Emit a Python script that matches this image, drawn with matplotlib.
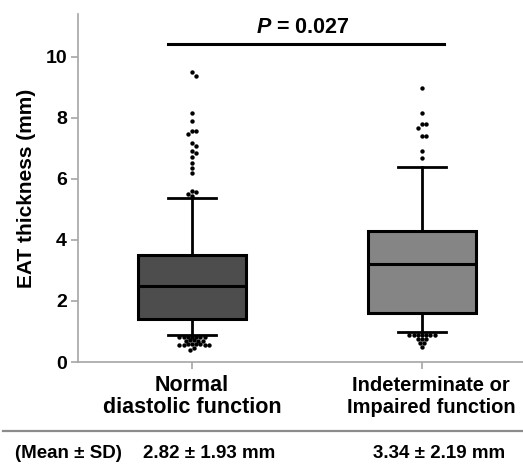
import numpy as np
import matplotlib
matplotlib.use('Agg')
import matplotlib.pyplot as plt
from matplotlib.lines import Line2D
from matplotlib.transforms import blended_transform_factory, ScaledTranslation

# values
categories = ['Normal\ndiastolic function', 'Indeterminate or\nImpaired function']
q1 = [1.41, 1.60]
medians = [2.49, 3.20]
q3 = [3.50, 4.30]
whisker_low = [0.90, 0.98]
whisker_high = [5.38, 6.39]
outliers_normal = [9.49, 9.38, 8.17, 7.88, 7.58, 7.58, 7.48, 7.19, 7.09, 6.90, 6.86,
                   6.70, 6.51, 6.35, 6.19, 5.61, 5.58, 5.50, 5.44,
                   0.83, 0.83, 0.83, 0.82, 0.82, 0.82, 0.82, 0.71, 0.71, 0.70, 0.70,
                   0.70, 0.58, 0.58, 0.58, 0.58, 0.57, 0.57, 0.57, 0.57, 0.46, 0.38]
outliers_impaired = [8.97, 8.17, 7.79, 7.79, 7.68, 7.39, 7.39, 6.90, 6.68,
                     0.89, 0.89, 0.89, 0.89, 0.88, 0.88, 0.88, 0.75, 0.75, 0.75,
                     0.62, 0.62, 0.50]
means = [2.82, 3.34]
sds = [1.93, 2.19]
p_value = 0.027
box_colors = ['#4d4d4d', '#858585']

plt.rcParams['font.family'] = ['Liberation Sans', 'DejaVu Sans']
plt.rcParams['font.weight'] = 'bold'
plt.rcParams['axes.labelweight'] = 'bold'
plt.rcParams['mathtext.fontset'] = 'custom'
plt.rcParams['mathtext.it'] = 'Liberation Sans:italic:bold'
plt.rcParams['mathtext.rm'] = 'Liberation Sans:bold'

W, H = 523, 465
fig = plt.figure(figsize=(W / 100, H / 100), dpi=100)
ax = fig.add_axes([78 / W, 103 / H, 445 / W, 348 / H])

ymax = 11.4
xlim = (-0.496, 1.439)
ax.set_ylim(0, ymax)
ax.set_xlim(*xlim)


def swarm(values, x0, diam=4.2):
    """
        Simple beeswarm offsets in pixel space, converted back to data x.
    """
    px_y = 348 / ymax
    px_x = 445 / (xlim[1] - xlim[0])
    order = np.argsort(values)[::-1]
    placed = []
    xs = np.zeros(len(values))
    for i in order:
        y = values[i] * px_y
        for k in range(0, 40):
            cands = [0.0] if k == 0 else [k * diam / 2, -k * diam / 2]
            ok = None
            for c in cands:
                if all((c - px) ** 2 + (y - py) ** 2 >= diam ** 2 * 0.9 for px, py in placed):
                    ok = c
                    break
            if ok is not None:
                placed.append((ok, y))
                xs[i] = x0 + ok / px_x
                break
    return xs


stats = []
for i in range(2):
    stats.append(dict(med=medians[i], q1=q1[i], q3=q3[i],
                      whislo=whisker_low[i], whishi=whisker_high[i], fliers=[]))

bp = ax.bxp(stats, positions=[0, 1], widths=0.47, patch_artist=True, showfliers=False,
            boxprops=dict(linewidth=2.2, edgecolor='black'),
            medianprops=dict(color='black', linewidth=2.2),
            whiskerprops=dict(color='black', linewidth=2.0),
            capprops=dict(color='black', linewidth=2.0),
            capwidths=0.205)
for patch, col in zip(bp['boxes'], box_colors):
    patch.set_facecolor(col)

for i, vals in enumerate([outliers_normal, outliers_impaired]):
    vals = np.array(vals)
    ax.scatter(swarm(vals, i), vals, s=10, color='black', zorder=3, linewidths=0)

# significance bar
ax.plot([-0.105, 1.095], [10.43, 10.43], color='black', linewidth=2.2, clip_on=False)
ax.text(0.483, 10.62, r'$\mathit{P}$ = ' + str(p_value), fontsize=15.5, ha='center', va='bottom')

for s in ['top', 'right']:
    ax.spines[s].set_visible(False)
for s in ['left', 'bottom']:
    ax.spines[s].set_color('#a6a6a6')
    ax.spines[s].set_linewidth(1.2)

ax.set_yticks([0, 2, 4, 6, 8, 10])
ax.tick_params(axis='y', colors='#a6a6a6', labelcolor='black', labelsize=14, length=5, width=1.2, pad=3)
ax.set_xticks([0, 1])
ax.set_xticklabels(categories, fontsize=15.5, linespacing=1.12, fontweight='bold')
ax.tick_params(axis='x', colors='#a6a6a6', labelcolor='black', length=5, width=1.2, pad=4)
# second label is set narrower and a little right of its tick in the reference
lab2 = ax.get_xticklabels()[1]
lab2.set_fontsize(14.5)
lab2.set_linespacing(1.2)
lab2.set_transform(lab2.get_transform() + ScaledTranslation(0.09, -0.01, fig.dpi_scale_trans))
ax.set_ylabel('EAT thickness (mm)', fontsize=15, fontweight='bold', labelpad=7)

# table row beneath the axis
fig.add_artist(Line2D([3 / W, 1.0], [1 - 431 / H, 1 - 431 / H], color='#8c8c8c', linewidth=1.6))
fig.text(15 / W, 1 - 453 / H, '(Mean ± SD)', fontsize=13.5, va='center', ha='left')
trans = blended_transform_factory(ax.transData, fig.transFigure)
for i in range(2):
    ax.text(i - 0.213, 1 - 453 / H, f'{means[i]:.2f} ± {sds[i]:.2f} mm', transform=trans,
            fontsize=13.5, va='center', ha='left')

fig.savefig('out.png', dpi=100)
